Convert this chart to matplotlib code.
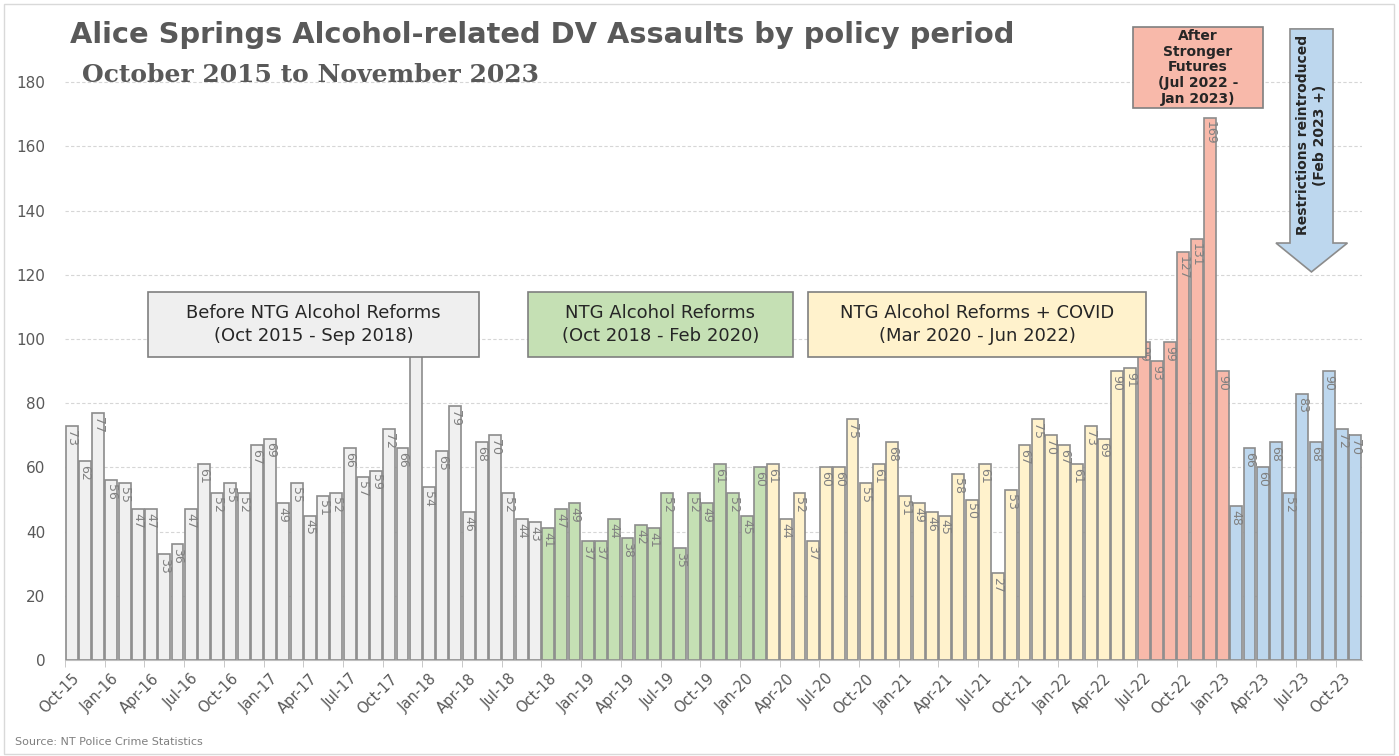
import numpy as np
import pandas as pd
import matplotlib
matplotlib.use('Agg')
import matplotlib.pyplot as plt
from matplotlib.patches import Rectangle, Polygon

# Monthly alcohol-related DV assaults, split by policy period
before_reforms = [73, 62, 77, 56, 55, 47, 47, 33, 36, 47, 61, 52, 55, 52, 67, 69, 49, 55,
                  45, 51, 52, 66, 57, 59, 72, 66, 108, 54, 65, 79, 46, 68, 70, 52, 44, 43]
ntg_reforms = [41, 47, 49, 37, 37, 44, 38, 42, 41, 52, 35, 52, 49, 61, 52, 45, 60]
reforms_covid = [61, 44, 52, 37, 60, 60, 75, 55, 61, 68, 51, 49, 46, 45, 58, 50, 61, 27,
                 53, 67, 75, 70, 67, 61, 73, 69, 90, 91]
after_sf = [99, 93, 99, 127, 131, 169, 90]
restrictions = [48, 66, 60, 68, 52, 83, 68, 90, 72, 70]

periods = [before_reforms, ntg_reforms, reforms_covid, after_sf, restrictions]
period_colors = ['#F0F0F0', '#C5E0B4', '#FFF2CC', '#F8B9AA', '#BDD7EE']

months = pd.date_range('2015-10-01', periods=sum(len(p) for p in periods), freq='MS')
month_labels = [m.strftime('%b-%y') for m in months]

values = np.concatenate(periods)
colors = np.concatenate([[c] * len(p) for p, c in zip(periods, period_colors)])
x = np.arange(len(values))

text_grey = '#595959'

fig = plt.figure(figsize=(13.99, 7.56), dpi=100)
ax = fig.add_axes([65 / 1399, 96 / 756, 1297 / 1399, 640 / 756])

ax.bar(x, values, width=0.9, color=colors, edgecolor='#8C8C8C', linewidth=1.2, zorder=2)

# period annotation boxes (data coords)
boxes = [
    (5.77, 30.78, 94.4, 114.6, '#EFEFEF', 'Before NTG Alcohol Reforms\n(Oct 2015 - Sep 2018)'),
    (34.48, 54.5, 94.4, 114.6, '#C5E0B4', 'NTG Alcohol Reforms\n(Oct 2018 - Feb 2020)'),
    (55.64, 81.18, 94.4, 114.6, '#FFF2CC', 'NTG Alcohol Reforms + COVID\n(Mar 2020 - Jun 2022)'),
]

# data labels, rotated, inside the top of each bar (skip those fully behind a box)
for xi, v in zip(x, values):
    hidden = any(x0 <= xi <= x1 and v - 7 >= y0 for x0, x1, y0, y1, _, _ in boxes)
    if hidden:
        continue
    ax.text(xi, v - 1.2, f'{v:.0f}', rotation=-90, ha='center', va='top',
            fontsize=9, color='#808080', zorder=3)

ax.set_xlim(-0.5, len(values) - 0.5)
ax.set_ylim(0, 640 / 3.21)
ax.set_yticks(range(0, 181, 20))
ax.yaxis.grid(True, color='#D6D6D6', linestyle=(0, (3, 2)), linewidth=0.8, zorder=0)
ax.set_axisbelow(True)
ax.tick_params(axis='y', length=0, pad=14, labelsize=11, labelcolor=text_grey)

# labels every quarter, tick marks on category boundaries
ax.set_xticks(x[::3])
ax.set_xticklabels(month_labels[::3], rotation=45, ha='right', rotation_mode='anchor',
                   fontsize=10.5, color=text_grey)
ax.tick_params(axis='x', which='major', length=0, pad=8)
ax.set_xticks(x[::3] - 0.5, minor=True)
ax.tick_params(axis='x', which='minor', length=5, color='#BFBFBF')

for s in ['top', 'right', 'left']:
    ax.spines[s].set_visible(False)
ax.spines['bottom'].set_color('#BFBFBF')

for x0, x1, y0, y1, fc, txt in boxes:
    ax.add_patch(Rectangle((x0, y0), x1 - x0, y1 - y0, facecolor=fc, edgecolor='#7F7F7F',
                           linewidth=1.2, zorder=5, clip_on=False))
    ax.text((x0 + x1) / 2, (y0 + y1) / 2, txt, ha='center', va='center', fontsize=13,
            color='#262626', linespacing=1.35, zorder=6)

ax.add_patch(Rectangle((80.2, 172), 9.8, 25.2, facecolor='#F8B9AA', edgecolor='#7F7F7F',
                       linewidth=1.2, zorder=5, clip_on=False))
ax.text(85.1, 184.6, 'After\nStronger\nFutures\n(Jul 2022 -\nJan 2023)', ha='center',
        va='center', fontsize=10, fontweight='bold', color='#262626', linespacing=1.15, zorder=6)

arrow = Polygon([(92.06, 196.6), (95.31, 196.6), (95.31, 129.9), (96.4, 129.9),
                 (93.68, 120.9), (91.0, 129.9), (92.06, 129.9)], closed=True,
                facecolor='#BDD7EE', edgecolor='#8C8C8C', linewidth=1.2, zorder=5, clip_on=False)
ax.add_patch(arrow)
ax.text(93.68, 163.5, 'Restrictions reintroduced\n(Feb 2023 +)', rotation=90, ha='center',
        va='center', fontsize=10, fontweight='bold', color='#262626', linespacing=1.2, zorder=6)

# titles and source
fig.text(70 / 1399, 1 - 35 / 756, 'Alice Springs Alcohol-related DV Assaults by policy period',
         fontsize=20.8, fontweight='bold', color=text_grey, va='center', ha='left')
fig.text(82 / 1399, 1 - 75 / 756, 'October 2015 to November 2023', family='DejaVu Serif',
         fontsize=18, fontweight='bold', color=text_grey, va='center', ha='left')
fig.text(15 / 1399, 1 - 742 / 756, 'Source: NT Police Crime Statistics', fontsize=8,
         color='#7F7F7F', va='center', ha='left')

fig.add_artist(Rectangle((4 / 1399, 2 / 756), 1390 / 1399, 750 / 756, transform=fig.transFigure,
                         fill=False, edgecolor='#D9D9D9', linewidth=1))

fig.savefig('out.png', dpi=100)
